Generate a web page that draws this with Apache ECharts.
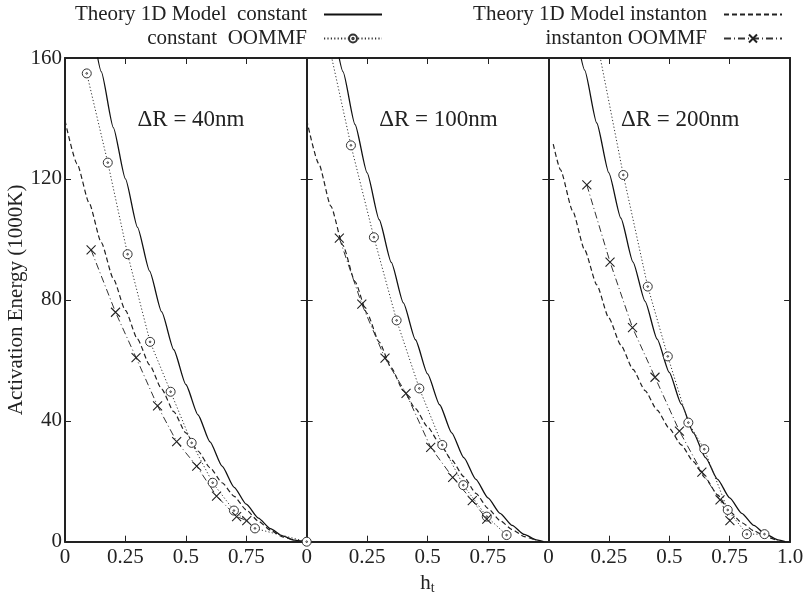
<!DOCTYPE html>
<html><head><meta charset="utf-8">
<script src="https://cdn.jsdelivr.net/npm/echarts@6/dist/echarts.min.js"></script>
<style>html,body{margin:0;padding:0;background:#fff}#c{width:804px;height:593px}</style>
</head><body><div id="c"></div>
<script>
const FONT = '"Liberation Serif", "Times New Roman", serif';
const seriesNames = ['Theory 1D Model  constant', 'constant  OOMMF', 'Theory 1D Model instanton', 'instanton OOMMF'];
const panelLabels = ['\u0394R = 40nm', '\u0394R = 100nm', '\u0394R = 200nm'];
const yAxisName = 'Activation Energy (1000K)';

// Panel 1: ΔR = 40nm
const p1TheoryConst = [[0.12,167],[0.15,155.5],[0.2,137],[0.25,120],[0.3,104],[0.35,89.5],[0.4,76],[0.45,63.5],[0.5,52],[0.55,42],[0.6,33],[0.65,25],[0.7,18],[0.75,12.4],[0.8,7.8],[0.85,4.3],[0.9,1.9],[0.95,0.5],[0.99,0]];
const p1OommfConst = [[0.090,154.9],[0.177,125.4],[0.259,95.1],[0.352,66.1],[0.437,49.6],[0.524,32.7],[0.611,19.5],[0.699,10.3],[0.786,4.4],[1.0,0]];
const p1TheoryInst = [[0,139.3],[0.05,125],[0.1,112],[0.15,99],[0.2,87],[0.25,76.5],[0.3,67],[0.35,58.5],[0.4,50.5],[0.45,43],[0.5,36],[0.55,30],[0.6,24.5],[0.65,19.5],[0.7,15],[0.75,10.5],[0.8,6.8],[0.85,3.8],[0.9,1.6],[0.95,0.3]];
const p1OommfInst = [[0.108,96.5],[0.209,75.9],[0.294,60.9],[0.383,44.9],[0.462,33.1],[0.545,25.0],[0.627,15.1],[0.71,8.3],[0.752,7.0]];

// Panel 2: ΔR = 100nm
const p2TheoryConst = [[0.12,166],[0.15,155.5],[0.2,138],[0.25,122],[0.3,106.5],[0.35,92.4],[0.4,79],[0.45,66.8],[0.5,55.5],[0.55,45.3],[0.6,36],[0.65,27.8],[0.7,20.6],[0.75,14.5],[0.8,9.4],[0.85,5.4],[0.9,2.4],[0.95,0.6],[0.98,0]];
const p2OommfConst = [[0.09,165],[0.183,131.1],[0.278,100.7],[0.372,73.2],[0.466,50.7],[0.561,32.0],[0.648,18.7],[0.745,8.3],[0.827,2.2]];
const p2TheoryInst = [[0,139.5],[0.05,125],[0.1,111],[0.15,98],[0.2,86],[0.25,75.5],[0.3,66],[0.35,57.5],[0.4,50],[0.45,44],[0.5,38],[0.55,32.5],[0.6,27],[0.65,21.5],[0.7,16],[0.75,11],[0.8,7],[0.85,4],[0.9,1.7],[0.95,0.4]];
const p2OommfInst = [[0.135,100.4],[0.228,78.6],[0.324,60.7],[0.411,49.1],[0.513,31.2],[0.604,21.3],[0.685,13.6],[0.745,7.5]];

// Panel 3: ΔR = 200nm
const p3TheoryConst = [[0.12,166],[0.15,156],[0.2,138.5],[0.25,122],[0.3,107],[0.35,92.5],[0.4,79.5],[0.45,67],[0.5,56],[0.55,45.5],[0.6,36],[0.65,27.8],[0.7,20.6],[0.75,14.5],[0.8,9.4],[0.85,5.4],[0.9,2.4],[0.95,0.6],[0.98,0]];
const p3OommfConst = [[0.2,166],[0.310,121.3],[0.411,84.4],[0.494,61.3],[0.579,39.4],[0.645,30.6],[0.742,10.5],[0.821,2.5],[0.894,2.5]];
const p3TheoryInst = [[0.02,131.5],[0.05,123],[0.1,109.5],[0.15,96.5],[0.2,85],[0.25,74],[0.3,65],[0.35,57],[0.4,50],[0.45,43.5],[0.5,37.5],[0.55,32],[0.6,26.5],[0.65,21],[0.7,15.5],[0.75,10],[0.8,6.3],[0.85,3.6],[0.9,1.6],[0.95,0.3]];
const p3OommfInst = [[0.159,118],[0.255,92.5],[0.348,70.8],[0.441,54.4],[0.542,36.6],[0.635,23.0],[0.710,13.8],[0.751,7.0]];

const panels = [
  [p1TheoryConst, p1OommfConst, p1TheoryInst, p1OommfInst],
  [p2TheoryConst, p2OommfConst, p2TheoryInst, p2OommfInst],
  [p3TheoryConst, p3OommfConst, p3TheoryInst, p3OommfInst]
];

const L = 65, W = 241.7, T = 58, H = 483.7;
const INK = '#222';
const axisLine = {show: true, onZero: false, lineStyle: {color: INK, width: 2}};
const tick = {show: true, inside: true, length: 6, lineStyle: {color: INK, width: 1}};
const RING = 'path://M10,5A5,5,0,1,1,0,5A5,5,0,1,1,10,5ZM5.9,5A0.9,0.9,0,1,1,4.1,5A0.9,0.9,0,1,1,5.9,5Z';
const CROSS = 'path://M0,0L10,10M10,0L0,10';

const grid = [], xAxis = [], yAxis = [], series = [], graphic = [];
for (let i = 0; i < 3; i++) {
  grid.push({left: L + i * W, top: T, width: W, height: H, containLabel: false, outerBoundsMode: 'none'});
  xAxis.push({
    gridIndex: i, type: 'value', min: 0, max: 1, interval: 0.25, position: 'bottom',
    axisLine, axisTick: tick, splitLine: {show: false},
    axisLabel: {fontFamily: FONT, fontSize: 21, color: INK, margin: 5, showMaxLabel: true,
      formatter: v => v === 1 ? (i === 2 ? '1.0' : '') : String(v)},
    name: i === 1 ? '{h|h}{t|t}' : '', nameLocation: 'middle', nameGap: 27,
    nameTextStyle: {rich: {h: {fontFamily: FONT, fontSize: 21, color: INK},
                           t: {fontFamily: FONT, fontSize: 14, color: INK, padding: [11, 0, 0, 0]}}}
  });
  xAxis.push({
    gridIndex: i, type: 'value', min: 0, max: 1, interval: 0.25, position: 'top',
    axisLine, axisTick: tick, axisLabel: {show: false}, splitLine: {show: false}
  });
  yAxis.push({
    gridIndex: i, type: 'value', min: 0, max: 160, interval: 40, position: 'left',
    axisLine, axisTick: tick, splitLine: {show: false},
    axisLabel: {show: i === 0, fontFamily: FONT, fontSize: 21, color: INK, margin: 3},
    name: i === 0 ? yAxisName : '', nameLocation: 'middle', nameRotate: 90, nameGap: 31,
    nameTextStyle: {fontFamily: FONT, fontSize: 21, color: INK}
  });
  yAxis.push({
    gridIndex: i, type: 'value', min: 0, max: 160, interval: 40, position: 'right',
    axisLine, axisTick: tick, axisLabel: {show: false}, splitLine: {show: false}
  });
  const d = panels[i];
  const base = {xAxisIndex: 2 * i, yAxisIndex: 2 * i, clip: true, animation: false};
  series.push(Object.assign({}, base, {
    name: seriesNames[0], type: 'line', data: d[0], symbol: 'none', smooth: 0.2, smoothMonotone: 'x',
    lineStyle: {color: '#111', width: 1.3, type: 'solid'}, itemStyle: {color: '#111'}
  }));
  series.push(Object.assign({}, base, {
    name: seriesNames[1], type: 'line', data: d[1], symbol: RING, symbolSize: 9,
    lineStyle: {color: '#333', width: 1, type: [1.2, 2.2]},
    itemStyle: {color: '#fff', borderColor: '#333', borderWidth: 1}
  }));
  series.push(Object.assign({}, base, {
    name: seriesNames[2], type: 'line', data: d[2], symbol: 'none', smooth: 0.2, smoothMonotone: 'x',
    lineStyle: {color: '#222', width: 1.2, type: [5, 3]}, itemStyle: {color: '#222'}
  }));
  series.push(Object.assign({}, base, {
    name: seriesNames[3], type: 'line', data: d[3], symbol: CROSS, symbolSize: 9,
    lineStyle: {color: '#333', width: 1, type: [7, 3, 1, 3]},
    itemStyle: {color: 'none', borderColor: '#222', borderWidth: 1.1}
  }));
  graphic.push({type: 'text', left: L + i * W + 0.3 * W, top: 108,
    style: {text: panelLabels[i], font: '23px ' + FONT, fill: INK}});
}

const legendText = {fontFamily: FONT, fontSize: 21, color: INK, padding: [0, 12, 0, 0]};
const chart = echarts.init(document.getElementById('c'), null, {renderer: 'canvas'});
chart.setOption({
  animation: false,
  backgroundColor: '#fff',
  grid, xAxis, yAxis, series, graphic,
  legend: [
    {data: [{name: seriesNames[0], itemStyle: {opacity: 0}}, seriesNames[1]],
     orient: 'vertical', right: 416, top: -1, align: 'right',
     itemWidth: 58, itemHeight: 10, itemGap: 3, textStyle: legendText},
    {data: [{name: seriesNames[2], itemStyle: {opacity: 0}}, seriesNames[3]],
     orient: 'vertical', right: 16, top: -1, align: 'right',
     itemWidth: 58, itemHeight: 10, itemGap: 3, textStyle: legendText}
  ]
});
</script></body></html>
